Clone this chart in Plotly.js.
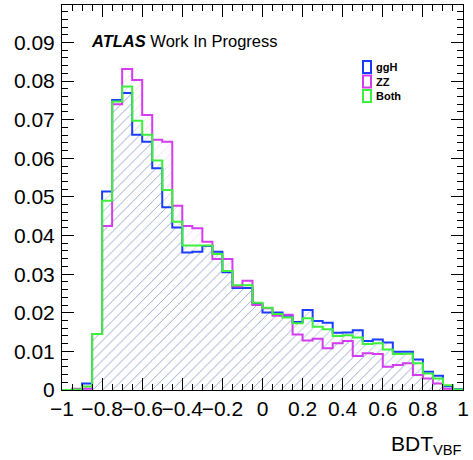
<!DOCTYPE html>
<html>
<head>
<meta charset="utf-8">
<script src="https://cdn.plot.ly/plotly-3.0.1.min.js"></script>
<style>html,body{margin:0;padding:0;background:#fff;}#plot{width:473px;height:460px;}</style>
</head>
<body>
<div id="plot"></div>
<script>
// Histogram binning
var binLow = -1.0;
var binWidth = 0.05;
var nBins = 40;

// Normalised bin contents
var ggH = [0, 0, 0.0017, 0.0145, 0.0514, 0.0751, 0.0769, 0.0661, 0.0643, 0.0574,
           0.0473, 0.0421, 0.0356, 0.0358, 0.0373, 0.0358, 0.0305, 0.0264, 0.0264, 0.0223,
           0.0201, 0.0201, 0.0192, 0.0176, 0.0207, 0.0179, 0.0174, 0.0148, 0.0149, 0.0155,
           0.0127, 0.0131, 0.0123, 0.0099, 0.0099, 0.0079, 0.0047, 0.0037, 0.0010, 0.0002];
var ZZ  = [0, 0.0003, 0.0003, 0.0145, 0.0425, 0.0740, 0.0831, 0.0803, 0.0712, 0.0648,
           0.0643, 0.0477, 0.0425, 0.0419, 0.0384, 0.0339, 0.0339, 0.0268, 0.0283, 0.0220,
           0.0212, 0.0192, 0.0195, 0.0144, 0.0128, 0.0133, 0.0108, 0.0121, 0.0127, 0.0088,
           0.0095, 0.0093, 0.0060, 0.0065, 0.0069, 0.0039, 0.0030, 0.0017, 0.0003, 0];
var Both = [0, 0.0001, 0.0009, 0.0145, 0.0490, 0.0747, 0.0786, 0.0697, 0.0661, 0.0594,
            0.0518, 0.0436, 0.0374, 0.0374, 0.0374, 0.0352, 0.0308, 0.0271, 0.0271, 0.0226,
            0.0213, 0.0197, 0.0188, 0.0173, 0.0186, 0.0164, 0.0157, 0.0140, 0.0142, 0.0136,
            0.0119, 0.0121, 0.0105, 0.0093, 0.0094, 0.0069, 0.0043, 0.0030, 0.0012, 0.0001];

var seriesNames = ['ggH', 'ZZ', 'Both'];
var seriesValues = [ggH, ZZ, Both];
var lineColors = ['#1a3cff', '#d43cf0', '#3cf03c'];
var hatchColors = ['rgba(95,135,195,0.50)', 'rgba(230,120,240,0.35)', 'rgba(130,215,170,0.35)'];
var hatchOrder = [1, 2, 0];   // draw ZZ, Both, then ggH hatch on top

var centers = [], edges = [];
for (var i = 0; i < nBins; i++) {
  edges.push(binLow + i * binWidth);
  centers.push(binLow + (i + 0.5) * binWidth);
}
edges.push(binLow + nBins * binWidth);

var traces = [];
hatchOrder.forEach(function (s) {
  traces.push({
    type: 'bar', x: centers, y: seriesValues[s], width: binWidth,
    marker: {color: 'rgba(0,0,0,0)', line: {width: 0},
             pattern: {shape: '/', fgcolor: hatchColors[s], bgcolor: 'rgba(0,0,0,0)', size: 7, solidity: 0.12}},
    showlegend: false, hoverinfo: 'skip'
  });
});
seriesValues.forEach(function (vals, s) {
  var ys = vals.slice();
  ys.push(vals[vals.length - 1]);
  traces.push({
    type: 'scatter', mode: 'lines', x: edges, y: ys, name: seriesNames[s],
    line: {shape: 'hv', color: lineColors[s], width: 2},
    showlegend: false
  });
});

var W = 473, H = 460, mL = 62, mR = 10, mT = 5, mB = 70;
var pw = W - mL - mR, ph = H - mT - mB;
function px(xp) { return (xp - mL) / pw; }
function py(yp) { return (H - mB - yp) / ph; }

var shapes = [], annotations = [];
var legY = [67, 81.5, 96];
seriesNames.forEach(function (n, s) {
  shapes.push({type: 'rect', xref: 'paper', yref: 'paper',
    x0: px(363), x1: px(371), y0: py(legY[s] + 6), y1: py(legY[s] - 6),
    line: {color: lineColors[s], width: 2}, fillcolor: 'rgba(0,0,0,0)'});
  annotations.push({xref: 'paper', yref: 'paper', x: px(374), y: py(legY[s]),
    xanchor: 'left', yanchor: 'middle', showarrow: false,
    text: '<b>' + n + '</b>', font: {family: 'Liberation Sans, Arial', size: 11, color: '#000'}});
});
annotations.push({xref: 'paper', yref: 'paper', x: px(89), y: py(41.5),
  xanchor: 'left', yanchor: 'middle', showarrow: false,
  text: '<b><i>ATLAS</i></b> Work In Progress',
  font: {family: 'Liberation Sans, Arial', size: 16.5, color: '#000'}});
annotations.push({xref: 'paper', yref: 'paper', x: px(464), y: py(445),
  xanchor: 'right', yanchor: 'middle', showarrow: false,
  text: 'BDT<sub>VBF</sub>',
  font: {family: 'Liberation Sans, Arial', size: 21, color: '#000'}});

var axFont = {family: 'Liberation Sans, Arial', size: 21, color: '#000'};
var layout = {
  width: W, height: H,
  margin: {l: mL, r: mR, t: mT, b: mB, pad: 0},
  paper_bgcolor: '#fff', plot_bgcolor: '#fff',
  barmode: 'overlay', bargap: 0,
  showlegend: false,
  xaxis: {range: [-1, 1], tick0: -1, dtick: 0.2, ticks: 'inside', ticklen: 12, tickwidth: 1,
    tickcolor: '#000', showline: true, linecolor: '#000', linewidth: 1, mirror: 'allticks',
    showgrid: false, zeroline: false, tickfont: axFont, ticklabelstandoff: 0, tickangle: 0,
    minor: {dtick: 0.05, ticks: 'inside', ticklen: 6, tickcolor: '#000', showgrid: false}},
  yaxis: {range: [0, 0.0997], tick0: 0, dtick: 0.01, ticks: 'inside', ticklen: 12, tickwidth: 1,
    tickcolor: '#000', showline: true, linecolor: '#000', linewidth: 1, mirror: 'allticks',
    showgrid: false, zeroline: false, tickfont: axFont, ticklabelstandoff: 2,
    minor: {dtick: 0.002, ticks: 'inside', ticklen: 6, tickcolor: '#000', showgrid: false}},
  shapes: shapes, annotations: annotations
};
Plotly.newPlot('plot', traces, layout, {staticPlot: true, displayModeBar: false});
</script>
</body>
</html>
